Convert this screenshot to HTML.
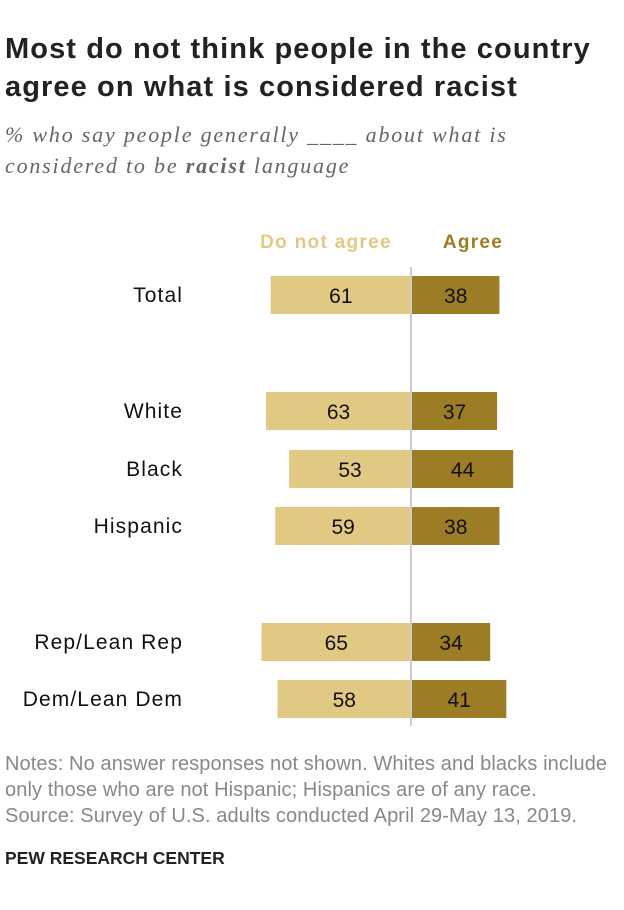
<!DOCTYPE html>
<html><head><meta charset="utf-8"><style>
body{margin:0;background:#fff;width:624px;height:910px;overflow:hidden;font-family:"Liberation Sans",sans-serif;position:relative}
.t{position:absolute;left:5px;top:30px;font-size:29px;font-weight:bold;line-height:38px;color:#222;letter-spacing:1.1px;white-space:nowrap}
.s{position:absolute;left:5px;top:119px;font-family:"Liberation Serif",serif;font-style:italic;font-size:22px;line-height:31px;color:#666;letter-spacing:1.8px;white-space:nowrap}
.n{position:absolute;left:5px;top:751px;font-size:20px;line-height:26px;color:#888;white-space:nowrap;letter-spacing:0.1px}
.p{position:absolute;left:5px;top:848px;font-size:17.5px;font-weight:bold;color:#222}
</style></head><body>
<div class="t">Most do not think people in the country<br>agree on what is considered racist</div>
<div class="s">% who say people generally ____ about what is<br>considered to be <b>racist</b> language</div>
<svg id="c" width="624" height="740" style="position:absolute;left:0;top:0"></svg>
<div class="n">Notes: No answer responses not shown. Whites and blacks include<br>only those who are not Hispanic; Hispanics are of any race.<br>Source: Survey of U.S. adults conducted April 29-May 13, 2019.</div>
<div class="p">PEW RESEARCH CENTER</div>
<script>
const categories=["Total","White","Black","Hispanic","Rep/Lean Rep","Dem/Lean Dem"];
const doNotAgree=[61,63,53,59,65,58];
const agree=[38,37,44,38,34,41];
const rowTops=[276,392,450,507,623,680];
const svg=document.getElementById('c');
const NS='http://www.w3.org/2000/svg';
const cx=411,k=2.3,bh=38;
function x(v){return v*k;}
function mk(t,a){const e=document.createElementNS(NS,t);for(const q in a)e.setAttribute(q,a[q]);svg.appendChild(e);return e;}
let h=mk('text',{x:326,y:248,'text-anchor':'middle','font-size':19,'font-weight':'bold','letter-spacing':1.3,fill:'#E2C983','font-family':'Liberation Sans'});h.textContent='Do not agree';


h=mk('text',{x:473,y:248,'text-anchor':'middle','font-size':19,'font-weight':'bold','letter-spacing':1.3,fill:'#9C7C24','font-family':'Liberation Sans'});h.textContent='Agree';


categories.forEach((c,i)=>{
 const y=rowTops[i];
 let l=mk('text',{x:183,y:y+26,'text-anchor':'end','font-size':21,'letter-spacing':1.1,fill:'#111','font-family':'Liberation Sans'});l.textContent=c;
 
 
 let r=mk('rect',{x:cx-x(doNotAgree[i]),y:y,width:x(doNotAgree[i]),height:bh,fill:'#E2C983'});
 
 
 let v=mk('text',{x:cx-x(doNotAgree[i])/2,y:y+27,'text-anchor':'middle','font-size':21,fill:'#111','font-family':'Liberation Sans'});v.textContent=doNotAgree[i];
 
 
 r=mk('rect',{x:cx+1,y:y,width:x(agree[i]),height:bh,fill:'#9C7C24'});
 
 
 v=mk('text',{x:cx+1+x(agree[i])/2,y:y+27,'text-anchor':'middle','font-size':21,fill:'#111','font-family':'Liberation Sans'});v.textContent=agree[i];
 
 
});
const d=mk('line',{x1:cx,x2:cx,y1:267,y2:726,stroke:'#ccc','stroke-width':2});


</script>
</body></html>
